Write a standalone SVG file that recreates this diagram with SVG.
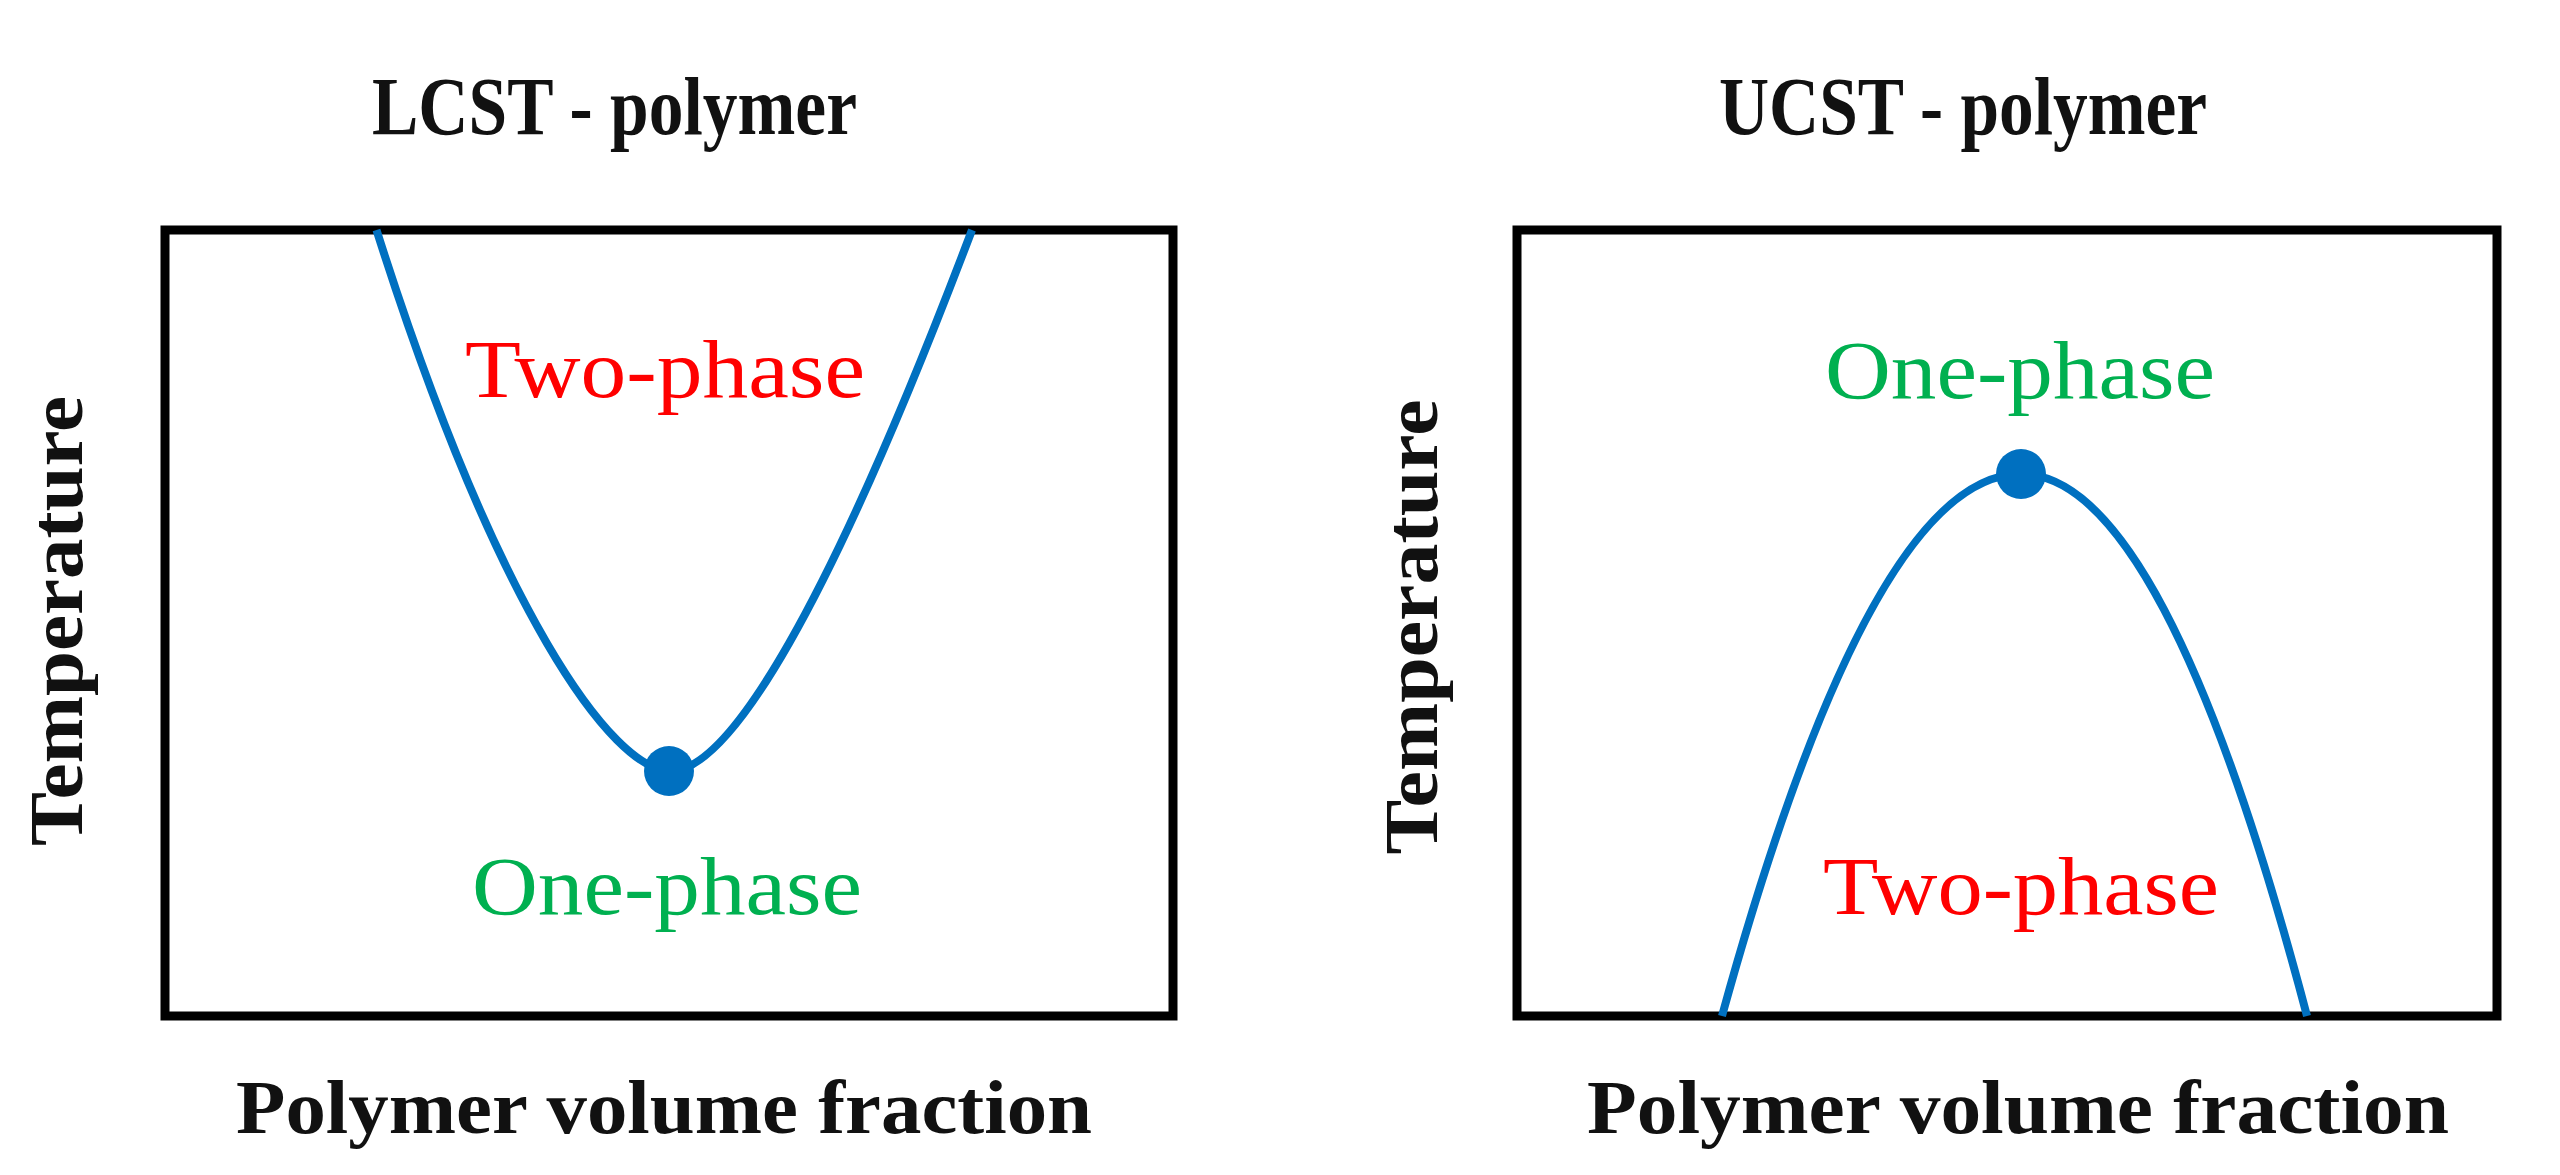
<svg xmlns="http://www.w3.org/2000/svg" width="2560" height="1175" viewBox="0 0 2560 1175">
<style>
.bg{fill:#fff}
.frame{fill:none;stroke:#000;stroke-width:9}
.curve{fill:none;stroke:#0070C0;stroke-width:8;stroke-linecap:butt}
.dot{fill:#0070C0}
.title,.axis{font-family:"Liberation Serif","Times New Roman",serif;font-weight:bold;fill:#111}
.title{font-size:82px}
.axis{font-size:76px}
.phase{font-family:"Liberation Serif","Times New Roman",serif;font-size:82px}
.two{fill:#FF0000}
.one{fill:#00B050}
</style>
<rect class="bg" x="0" y="0" width="2560" height="1175"/>
<g id="lcst-panel">
  <text class="title" x="614.5" y="134" text-anchor="middle" textLength="485" lengthAdjust="spacingAndGlyphs">LCST - polymer</text>
  <rect class="frame" x="165" y="230" width="1008" height="786"/>
  <path class="curve" d="M376.5,230 C497,610 612,771 670.5,771 C729,771 828,610 972,230"/>
  <circle class="dot" cx="669" cy="771" r="25"/>
  <text class="phase two" x="665" y="397" text-anchor="middle" textLength="400" lengthAdjust="spacingAndGlyphs">Two-phase</text>
  <text class="phase one" x="667" y="914" text-anchor="middle" textLength="390" lengthAdjust="spacingAndGlyphs">One-phase</text>
  <text class="axis" transform="translate(82,621) rotate(-90)" text-anchor="middle" textLength="450" lengthAdjust="spacingAndGlyphs">Temperature</text>
  <text class="axis" x="664" y="1133" text-anchor="middle" textLength="856" lengthAdjust="spacingAndGlyphs">Polymer volume fraction</text>
</g>
<g id="ucst-panel">
  <text class="title" x="1963" y="134" text-anchor="middle" textLength="488" lengthAdjust="spacingAndGlyphs">UCST - polymer</text>
  <rect class="frame" x="1517" y="230" width="980" height="786"/>
  <path class="curve" d="M1722,1016 Q1871.5,474 2021,474 Q2164,474 2307,1016"/>
  <circle class="dot" cx="2021" cy="474" r="25"/>
  <text class="phase one" x="2020" y="398" text-anchor="middle" textLength="390" lengthAdjust="spacingAndGlyphs">One-phase</text>
  <text class="phase two" x="2021" y="914" text-anchor="middle" textLength="396" lengthAdjust="spacingAndGlyphs">Two-phase</text>
  <text class="axis" transform="translate(1437,627) rotate(-90)" text-anchor="middle" textLength="455" lengthAdjust="spacingAndGlyphs">Temperature</text>
  <text class="axis" x="2018" y="1133" text-anchor="middle" textLength="862" lengthAdjust="spacingAndGlyphs">Polymer volume fraction</text>
</g>
<g id="connectors"></g>
</svg>
